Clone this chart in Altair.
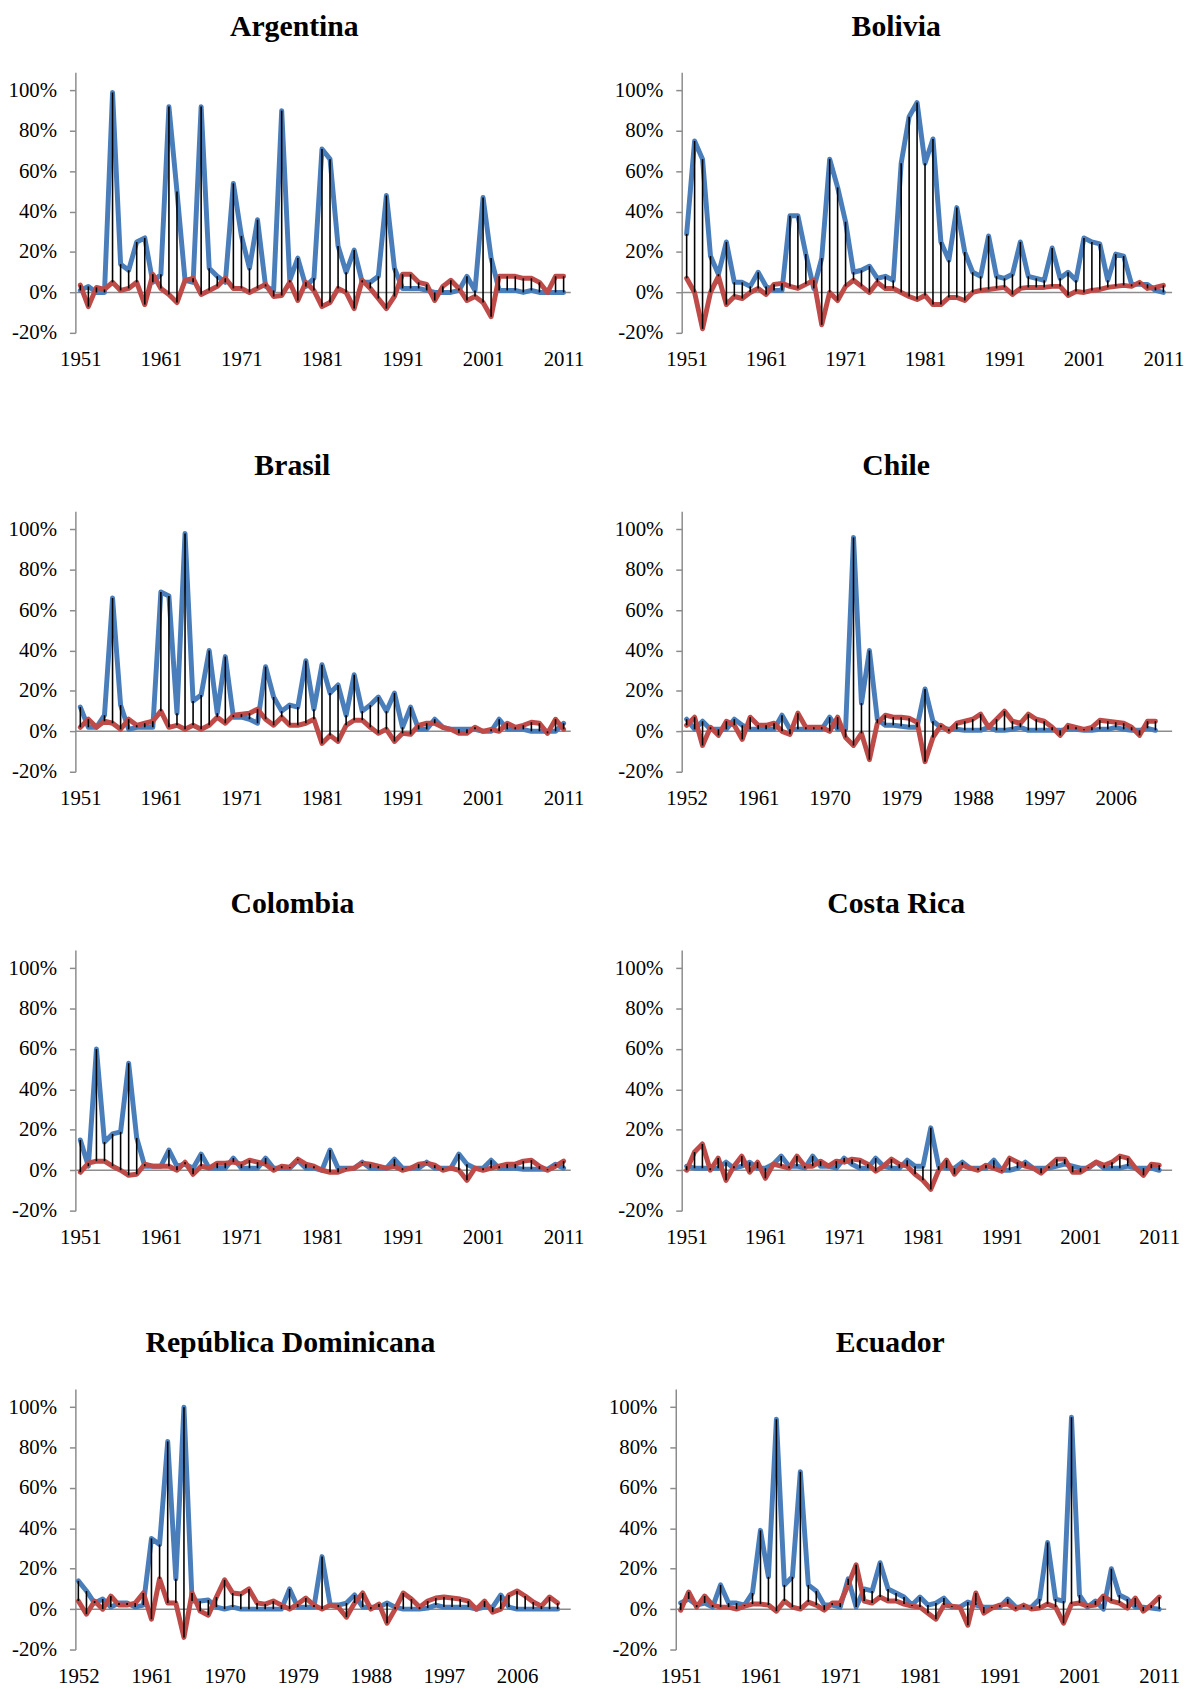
import altair as alt
import pandas as pd

SERIF = "Liberation Serif"
BLUE = "#4A7EBB"
RED = "#BE4B48"
GRAY = "#8C8C8C"

years_61 = list(range(1951, 2012))
years_60 = list(range(1952, 2012))
ticks_61 = [1951, 1961, 1971, 1981, 1991, 2001, 2011]
ticks_60 = [1952, 1961, 1970, 1979, 1988, 1997, 2006]
y_ticks = [-0.2, 0.0, 0.2, 0.4, 0.6, 0.8, 1.0]

# values in percent
arg_blue = [1, 3, 0, 0, 99, 14, 11, 25, 27, 5,
            9, 92, 50, 6, 5, 92, 12, 8, 5, 54,
            28, 12, 36, 3, 1, 90, 6, 17, 3, 7,
            71, 66, 23, 10, 21, 5, 5, 8, 48, 12,
            2, 2, 2, 1, 0, 0, 0, 1, 8, 1,
            47, 17, 1, 1, 1, 0, 1, 0, 0, 0, 0]
arg_red = [3.6, -7, 2.5, 1.5, 5, 1, 2, 5, -6, 9,
           2, -1, -5, 6, 7, -1, 1, 3, 7, 2,
           2, 0, 2, 4, -2, -1.5, 5, -4, 5, 1,
           -7, -5, 2, 0, -8, 6, 2, -3, -8, -2,
           9, 9, 5, 4, -4, 3, 6, 2, -4, -2,
           -5, -12, 8, 8, 8, 7, 7, 5, 0, 8, 8]

bol_blue = [29, 75, 66, 18, 9, 25, 5, 5, 3, 10,
            3, 1, 1, 38, 38, 19, 2, 17, 66, 52,
            35, 10, 11, 13, 7, 8, 6, 64, 87, 94,
            64, 76, 25, 16, 42, 20, 10, 8, 28, 8,
            7, 9, 25, 8, 7, 6, 22, 7, 10, 6,
            27, 25, 24, 6, 19, 18, 4, 4, 4, 1, 0]
bol_red = [7, 0, -18, 0, 8, -6, -2, -3, 0, 2,
           -1, 4, 4.5, 3, 2, 4, 6, -16, 0, -4,
           3, 6, 3, 0, 5, 2, 2, 0, -2, -3.5,
           -1.5, -6, -6, -2.5, -2.5, -4, 0, 1, 1.5, 2,
           2.5, -1, 2, 2.5, 2.5, 2.5, 3, 3, -1.5, 0.5,
           0, 1, 1.5, 2.5, 3, 3.5, 3, 5, 2, 2.5, 3.5]

bra_blue = [12, 2, 2, 8, 66, 13, 1, 2, 2, 2,
            69, 67, 9, 98, 15, 18, 40, 9, 37, 7,
            7, 6, 4, 32, 17, 10, 13, 12, 35, 11,
            33, 19, 23, 8, 28, 10, 13, 17, 10, 19,
            2, 12, 1, 1, 6, 2, 1, 1, 1, 1,
            0, 0, 6, 1, 1, 1, 0, 0, 0, 0, 4]
bra_red = [2, 6, 2, 5, 4, 1, 6, 3, 4, 5,
           10, 2, 3, 1, 3, 1, 3, 7, 4, 8,
           8.5, 9, 11, 6, 3, 7, 3, 3, 4, 6,
           -6, -2, -5, 3, 5.5, 5.5, 2, -1, 1, -5,
           -1, -1.5, 3, 4, 4, 2, 1, -1, -1, 2,
           0, 1, 0, 4, 2, 3, 4.5, 4, -1, 6, 1]

chi_blue = [6, 1, 5, 1, 1, 1, 6, 3, 1, 1,
            1, 1, 8, 1, 1, 1, 1, 1, 7, 1,
            1, 96, 14, 40, 6, 3, 3, 2.5, 2, 2,
            21, 5, 2, 1, 1, 0.5, 0.5, 0.5, 2, 0.5,
            0.5, 1, 2, 0.5, 0.5, 0.5, 0.5, 0.5, 1, 1,
            0.5, 0.5, 1, 1, 2, 1, 0.5, 0.5, 1.5, 0.5]
chi_red = [3, 7, -7, 2, -2, 5, 3, -4, 7, 3,
           3, 4, 0, -1.5, 9, 2, 2, 2, 0, 7,
           -3, -7, -1, -14, 4, 8, 7, 7, 6.5, 4.5,
           -15, -3, 3, 0, 4, 5, 6, 8.5, 2, 6,
           10, 5, 4, 8.5, 6, 5, 2, -2, 3, 2,
           1, 2, 5.5, 5, 4.5, 4, 2, -2, 5, 5]

col_blue = [15, 2, 60, 14, 18, 19, 53, 16, 2, 2,
            2, 10, 2, 3, 1, 8, 1, 1, 1, 6,
            1, 1, 1, 6, 1, 1, 1, 5, 1, 1,
            0, 10, 1, 1, 1, 4, 1, 1, 1, 5.5,
            1, 1, 1, 4, 1, 1, 1, 8, 3, 1,
            1, 5, 1, 1, 1, 0.5, 0.5, 0.5, 0.5, 3, 1]
col_red = [-1, 3.5, 4.5, 4.5, 2, 0, -2.5, -2, 3, 2,
           2, 2, 0, 4, -2, 2, 1, 3.5, 3.5, 4,
           3, 5, 4, 3, 0, 2, 1.5, 5.5, 3, 2,
           0, -1, -1, 0.5, 1, 3.5, 3, 2, 1, 2,
           0, 1, 3, 3.5, 2.5, 0, 1, 0, -5, 1,
           0, 1, 2, 3, 3, 4.5, 5, 2, 0, 2, 4.5]

cri_blue = [2, 1, 1, 1, 1, 4, 1, 2, 4, 1,
            1, 3, 7, 2, 2, 1, 7, 2, 2, 1,
            6, 3, 1, 1, 6, 2, 1, 1, 5, 2,
            2, 21, 2, 1, 1, 4, 1, 1, 1, 5,
            0, 0, 1, 4, 1, 1, 1, 2, 3, 2,
            1, 1, 4, 1, 1, 1, 2, 1, 1, 1, 0]
cri_red = [0, 9, 13, 0, 6, -5, 2, 7, -1, 4,
           -4, 3, 2, 1, 7, 2, 2, 4.5, 2, 4.5,
           4, 5.5, 5, 3, -0.5, 2, 5.5, 3, 2, -2,
           -5, -9.5, 0, 5, -2, 2.5, 1, 0, 2.5, 1,
           -0.5, 6, 4, 2, 1, -1.5, 2, 5.5, 5.5, -1,
           -1, 1.5, 4, 2.5, 4, 7, 6, 1, -2.5, 3, 2.5]

dom_blue = [14, 9, 3, 5, 1, 3, 3, 1, 2, 35,
            32, 83, 15, 100, 4, 4, 4.5, 1, 0, 1,
            0, 0, 0, 0, 0, 0, 10, 1, 1, 1,
            26, 2, 2, 3, 7, 1, 1, 1, 3, 1,
            0, 0, 0, 0.5, 2, 1, 1, 1, 1, 0,
            1, 1, 7, 1, 0, 0, 0, 0, 0, 0]
dom_red = [4, -2.5, 4, 0, 6.5, 2, 2, 3, 8, -5,
           15, 3, 3, -14, 8, -1, -3, 6, 14.5, 8,
           7.5, 10, 3, 2.5, 4, 2, 0, 2.5, 5.5, 2,
           0, 2, 1, -4, 3, 8, 0, 2.5, -7, 0,
           8, 5, 1, 4, 5.5, 6, 5.5, 5, 4, 0,
           4, -1.5, 0, 7, 9, 6.5, 3.5, 1.5, 6, 3]

ecu_blue = [3, 5, 2, 3, 1, 12, 3, 3, 2, 8,
            39, 16, 94, 12, 16, 68, 12, 9, 2, 2,
            1, 15, 1, 10, 9, 23, 10, 8, 6, 2,
            6, 2, 3, 5.5, 1, 1, 3.5, 2, 1, 1,
            1, 5, 1, 1, 1, 5, 33, 5, 4, 95,
            7, 1, 4, 0, 20, 7, 5, 1, 1, 0.5, 0]
ecu_red = [-0.5, 8.5, 1, 6.5, 2, 1, 1, 0, 1.5, 2.5,
           2.5, 2, -1, 4, 1, 0, 3.5, 2, -0.5, 3,
           3, 12, 22, 4, 3, 6, 4, 4, 2.5, 1.5,
           1, -2, -5, 2, 1.5, 1, -8, 8, -2, 0.5,
           2, 2.5, 0, 2, 0, 0.5, 2.5, 1, -7, 2.5,
           3, 1.5, 2, 6.5, 4, 3, 0.5, 5.5, -1, 2, 6]

H = 263
WL, WR = 500, 495


def make_panel(title, years, blue, red, xticks, dx, width, step, first):
    x0 = years[0] - first / step
    x1 = x0 + width / step
    df = pd.DataFrame({"year": years,
                       "blue": [v / 100 for v in blue],
                       "red": [v / 100 for v in red]})
    zero = pd.DataFrame({"x0": [x0], "x1": [x1], "y": [0.0]})
    xs = alt.Scale(domain=[x0, x1], nice=False, zero=False)
    ys = alt.Scale(domain=[-0.2, 1.09], nice=False, zero=False)
    xa = alt.Axis(values=xticks, format="d", title=None, domain=False,
                  ticks=False, tickSize=0, grid=False, labelPadding=16,
                  labelFont=SERIF, labelFontSize=21, labelColor="black",
                  labelFlush=False, labelOverlap=False)
    ya = alt.Axis(values=y_ticks, labelExpr="round(datum.value*100) + '%'",
                  title=None, grid=False, domain=True, domainColor=GRAY,
                  domainWidth=1.5, ticks=True, tickColor=GRAY, tickWidth=1.5,
                  tickSize=6, labelPadding=13, labelFont=SERIF,
                  labelFontSize=21, labelColor="black",
                  minExtent=67, maxExtent=67)
    zero_rule = alt.Chart(zero).mark_rule(color=GRAY, strokeWidth=1.5).encode(
        x=alt.X("x0:Q", scale=xs, axis=xa), x2="x1:Q",
        y=alt.Y("y:Q", scale=ys, axis=ya))
    base = alt.Chart(df)
    blue_line = base.mark_line(color=BLUE, strokeWidth=5, strokeJoin="round",
                               strokeCap="round").encode(
        x=alt.X("year:Q", scale=xs, axis=xa),
        y=alt.Y("blue:Q", scale=ys, axis=ya))
    red_line = base.mark_line(color=RED, strokeWidth=5, strokeJoin="round",
                              strokeCap="round").encode(
        x=alt.X("year:Q", scale=xs, axis=xa),
        y=alt.Y("red:Q", scale=ys, axis=ya))
    rules = base.mark_rule(color="black", strokeWidth=1.6).encode(
        x=alt.X("year:Q", scale=xs, axis=xa),
        y=alt.Y("blue:Q", scale=ys, axis=ya), y2="red:Q")
    return alt.layer(zero_rule, blue_line, red_line, rules).properties(
        width=width, height=H,
        title=alt.TitleParams(text=title, font=SERIF, fontSize=30,
                              fontWeight="bold", color="black",
                              anchor="middle", dx=dx, offset=31))


p_arg = make_panel("Argentina", years_61, arg_blue, arg_red, ticks_61, -29, WL, 8.13, 5)
p_bol = make_panel("Bolivia", years_61, bol_blue, bol_red, ticks_61, -31, WR, 8.02, 5)
p_bra = make_panel("Brasil", years_61, bra_blue, bra_red, ticks_61, -31, WL, 8.13, 5)
p_chi = make_panel("Chile", years_60, chi_blue, chi_red, ticks_60, -31, WR, 8.02, 5)
p_col = make_panel("Colombia", years_61, col_blue, col_red, ticks_61, -31, WL, 8.13, 5)
p_cri = make_panel("Costa Rica", years_61, cri_blue, cri_red, ticks_61, -31, WR, 7.95, 5)
p_dom = make_panel("República Dominicana", years_60, dom_blue, dom_red, ticks_60, -33, WL, 8.2, 3)
p_ecu = make_panel("Ecuador", years_61, ecu_blue, ecu_red, ticks_61, -31, WR, 8.05, 5)

chart = alt.vconcat(
    alt.hconcat(p_arg, p_bol, spacing=112, bounds="flush"),
    alt.hconcat(p_bra, p_chi, spacing=112, bounds="flush"),
    alt.hconcat(p_col, p_cri, spacing=112, bounds="flush"),
    alt.hconcat(p_dom, p_ecu, spacing=106, bounds="flush"),
    spacing=82,
).properties(
    padding={"left": 0, "top": -4, "right": 0, "bottom": 0},
    background="white",
).configure_view(stroke=None)

chart.save("out.html", embed_options={"renderer": "svg", "actions": False})
